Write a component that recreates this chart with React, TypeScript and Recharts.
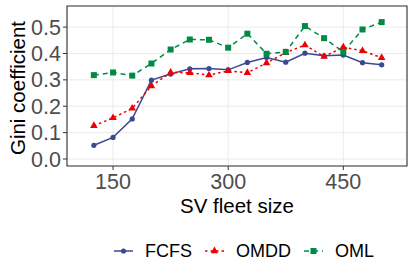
import { LineChart, Line, XAxis, YAxis, CartesianGrid, ReferenceArea } from 'recharts';

const fleetSizes = [125, 150, 175, 200, 225, 250, 275, 300, 325, 350, 375, 400, 425, 450, 475, 500];
const fcfs = [0.052, 0.082, 0.152, 0.299, 0.322, 0.342, 0.343, 0.338, 0.366, 0.385, 0.367, 0.401, 0.391, 0.394, 0.365, 0.357];
const omdd = [0.126, 0.156, 0.192, 0.277, 0.328, 0.327, 0.318, 0.334, 0.327, 0.364, 0.403, 0.432, 0.388, 0.424, 0.41, 0.384];
const oml = [0.318, 0.328, 0.316, 0.362, 0.415, 0.453, 0.452, 0.422, 0.475, 0.399, 0.406, 0.504, 0.458, 0.406, 0.491, 0.519];

const xTicks = [150, 300, 450];
const yTicks = [0, 0.1, 0.2, 0.3, 0.4, 0.5];
const xDomain: [number, number] = [90, 533];
const yDomain: [number, number] = [-0.0265, 0.58];

const COLORS = { FCFS: '#3B4992', OMDD: '#EE0000', OML: '#008B45' };
const FONT = '"Liberation Sans", Arial, sans-serif';

const data = fleetSizes.map((size, i) => ({ size, FCFS: fcfs[i], OMDD: omdd[i], OML: oml[i] }));

// ggplot-ish point shapes; colour passed explicitly (Line gives dots a white fill by default)
const CircleDot = ({ cx, cy, color }: any) =>
  cx == null ? null : <circle cx={cx} cy={cy} r={2.6} fill={color} />;

const TriangleDot = ({ cx, cy, color }: any) => {
  if (cx == null) return null;
  const r = 4.4;
  return (
    <path
      d={`M${cx},${cy - r} L${cx + r * 0.866},${cy + r / 2} L${cx - r * 0.866},${cy + r / 2} Z`}
      fill={color}
    />
  );
};

const SquareDot = ({ cx, cy, color }: any) =>
  cx == null ? null : <rect x={cx - 3} y={cy - 3} width={6} height={6} fill={color} />;

const series = [
  { key: 'FCFS', dash: undefined, Dot: CircleDot },
  { key: 'OMDD', dash: '2.5 3', Dot: TriangleDot },
  { key: 'OML', dash: '5 4', Dot: SquareDot },
] as const;

const GiniLabel = ({ viewBox }: any) => {
  const cx = 25;
  const cy = viewBox.y + viewBox.height / 2 + 2;
  return (
    <text
      x={cx}
      y={cy}
      transform={`rotate(-90, ${cx}, ${cy})`}
      textAnchor="middle"
      fontSize={20.5}
      fontFamily={FONT}
      fill="#000"
    >
      Gini coefficient
    </text>
  );
};

function LegendRow() {
  return (
    <div
      style={{
        position: 'absolute',
        top: 241,
        left: 114,
        display: 'flex',
        alignItems: 'center',
        fontFamily: FONT,
        fontSize: 18,
        color: '#000',
        height: 20,
      }}
    >
      {series.map(({ key, dash, Dot }) => {
        const color = COLORS[key];
        return (
          <div key={key} style={{ display: 'flex', alignItems: 'center', marginRight: 13 }}>
            <svg width={19} height={12} style={{ marginRight: 12 }}>
              <line x1={0} x2={19} y1={6} y2={6} stroke={color} strokeWidth={1.5} strokeDasharray={dash} />
              <Dot cx={9.5} cy={6} color={color} />
            </svg>
            <span>{key}</span>
          </div>
        );
      })}
    </div>
  );
}

export default function App() {
  return (
    <div style={{ position: 'relative', width: 415, height: 276, background: '#fff' }}>
      <style>{'body{margin:0}'}</style>
      <LineChart width={415} height={276} data={data} margin={{ top: 6, right: 8, bottom: 60, left: 0 }}>
        <CartesianGrid stroke="#EBEBEB" strokeWidth={1} />
        <XAxis
          dataKey="size"
          type="number"
          domain={xDomain}
          ticks={xTicks}
          interval={0}
          allowDataOverflow
          height={50}
          axisLine={false}
          tickSize={4}
          tickMargin={4}
          tickLine={{ stroke: '#333333' }}
          tick={{ fontSize: 21.5, fill: '#4D4D4D', fontFamily: FONT }}
          label={{ value: 'SV fleet size', position: 'insideBottom', offset: 3, fontSize: 20.5, fill: '#000', fontFamily: FONT }}
        />
        <YAxis
          type="number"
          domain={yDomain}
          ticks={yTicks}
          interval={0}
          allowDataOverflow
          width={67}
          axisLine={false}
          tickSize={4}
          tickMargin={2}
          tickLine={{ stroke: '#333333' }}
          tickFormatter={(v: number) => v.toFixed(1)}
          tick={{ fontSize: 21.5, fill: '#4D4D4D', fontFamily: FONT }}
          label={<GiniLabel />}
        />
        <ReferenceArea
          x1={xDomain[0]}
          x2={xDomain[1]}
          y1={yDomain[0]}
          y2={yDomain[1]}
          fill="none"
          stroke="#333333"
          strokeWidth={1.1}
          ifOverflow="visible"
        />
        {series.map(({ key, dash, Dot }) => (
          <Line
            key={key}
            dataKey={key}
            stroke={COLORS[key]}
            strokeWidth={1.5}
            strokeDasharray={dash}
            dot={<Dot color={COLORS[key]} />}
            activeDot={false}
            isAnimationActive={false}
          />
        ))}
      </LineChart>
      <LegendRow />
    </div>
  );
}
